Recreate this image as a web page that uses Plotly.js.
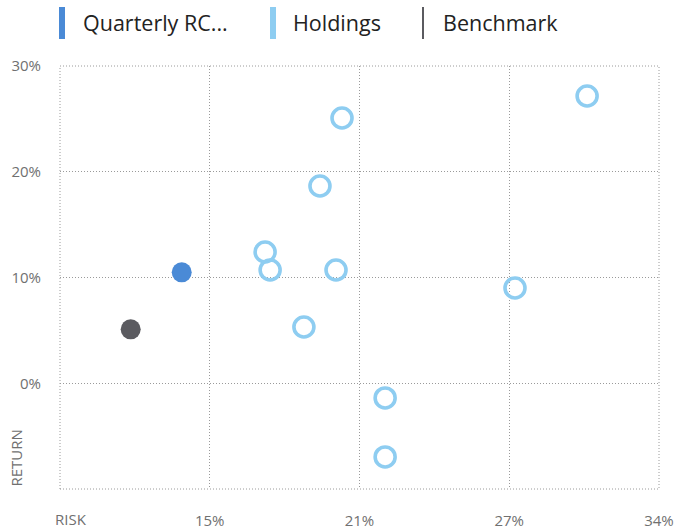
<!DOCTYPE html>
<html>
<head>
<meta charset="utf-8">
<script src="https://cdn.plot.ly/plotly-3.0.1.min.js"></script>
<style>html,body{margin:0;padding:0;background:#fff;}#chart{width:676px;height:529px;}</style>
</head>
<body>
<div id="chart"></div>
<script>
// Series names
const seriesNames = ["Quarterly RC...", "Holdings", "Benchmark"];
const seriesColors = ["#4a8ad6", "#8ecdf1", "#5b5b60"];

// Quarterly RC (risk %, return %)
const quarterlyRisk = [14.08];
const quarterlyReturn = [10.49];

// Holdings
const holdingsRisk   = [20.77, 31.0, 19.85, 17.56, 17.77, 20.52, 19.18, 27.99, 22.57, 22.57];
const holdingsReturn = [25.08, 27.16, 18.65, 12.41, 10.71, 10.71, 5.32, 9.01, -1.39, -6.97];

// Benchmark
const benchRisk = [11.95];
const benchReturn = [5.10];

// Axes
const xRange = [9, 34];
const xTickVals = [9, 15.25, 21.5, 27.75, 34];
const xTickText = ["", "15%", "21%", "27%", "34%"];
const yRange = [-10, 30];
const yTickVals = [-10, 0, 10, 20, 30];
const yTickText = ["", "0%", "10%", "20%", "30%"];
const xAxisLabel = "RISK";
const yAxisLabel = "RETURN";

const traces = [
  {
    x: holdingsRisk, y: holdingsReturn, type: "scatter", mode: "markers", name: seriesNames[1],
    marker: {symbol: "circle-open", size: 20, color: seriesColors[1], line: {width: 3.6, color: seriesColors[1]}},
    hoverinfo: "x+y"
  },
  {
    x: benchRisk, y: benchReturn, type: "scatter", mode: "markers", name: seriesNames[2],
    marker: {symbol: "circle", size: 20, color: seriesColors[2]}
  },
  {
    x: quarterlyRisk, y: quarterlyReturn, type: "scatter", mode: "markers", name: seriesNames[0],
    marker: {symbol: "circle", size: 20, color: seriesColors[0]}
  }
];

const gridColor = "#9a9a9a";
const gridDash = "1px,2px";
const tickFont = {family: "Open Sans", size: 15, color: "#707070"};

// custom legend (bars + labels)
const legendX = [59, 270, 422];
const legendW = [6, 6, 2];
const legendTextX = [81, 291, 441];
const shapes = [];
const annotations = [];
// dotted plot-area frame
shapes.push({type: "rect", xref: "paper", yref: "paper", x0: 0, x1: 1, y0: 0, y1: 1,
  line: {color: gridColor, width: 1, dash: gridDash}, layer: "below"});
seriesNames.forEach((n, i) => {
  shapes.push({type: "rect", xref: "paper", yref: "paper",
    x0: (legendX[i] - 60) / 599, x1: (legendX[i] + legendW[i] - 60) / 599,
    y0: (489 - 39) / 423, y1: (489 - 7) / 423,
    fillcolor: seriesColors[i], line: {width: 0}});
  annotations.push({xref: "paper", yref: "paper", x: (legendTextX[i] - 60) / 599, y: (489 - 23) / 423,
    xanchor: "left", yanchor: "middle", showarrow: false, text: n,
    font: {family: "Open Sans", size: 21.5, color: "#222"}});
});
annotations.push({xref: "paper", yref: "paper", x: -7 / 599, y: -30 / 423, xanchor: "left", yanchor: "middle",
  showarrow: false, text: xAxisLabel, font: tickFont});
annotations.push({xref: "paper", yref: "y", x: -57 / 599, y: yRange[0], xanchor: "left", yanchor: "bottom",
  textangle: -90, showarrow: false, text: yAxisLabel, font: tickFont});

const layout = {
  width: 676, height: 529,
  margin: {l: 60, r: 17, t: 66, b: 40, pad: 0},
  paper_bgcolor: "#fff", plot_bgcolor: "#fff",
  showlegend: false,
  font: {family: "Open Sans"},
  xaxis: {
    range: xRange, tickmode: "array", tickvals: xTickVals, ticktext: xTickText,
    showgrid: true, gridcolor: gridColor, griddash: gridDash, gridwidth: 1,
    zeroline: false, showline: false, ticks: "", tickfont: tickFont, ticklabelstandoff: 21,
    fixedrange: true
  },
  yaxis: {
    range: yRange, tickmode: "array", tickvals: yTickVals, ticktext: yTickText,
    showgrid: true, gridcolor: gridColor, griddash: gridDash, gridwidth: 1,
    zeroline: false, showline: false, ticks: "", tickfont: tickFont, ticklabelstandoff: 18,
    fixedrange: true
  },
  shapes: shapes,
  annotations: annotations
};

Plotly.newPlot("chart", traces, layout, {displayModeBar: false, staticPlot: true});
</script>
</body>
</html>
